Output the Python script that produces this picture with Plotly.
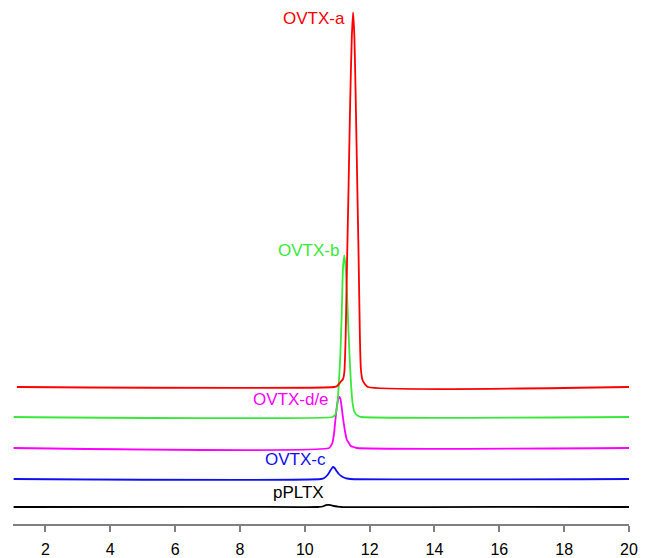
import plotly.graph_objects as go

# ---- data (retention time in min, detector signal in arbitrary units) ----
names = ["pPLTX", "OVTX-c", "OVTX-d/e", "OVTX-b", "OVTX-a"]
colors = ["#000000", "#1010ee", "#ff00ff", "#3ae83a", "#ff0000"]
offsets = [17, 45, 76, 107, 137]

t_pPLTX = [1.02, 8.0, 10.4, 10.55, 10.65, 10.72, 10.8, 10.9, 11.0, 11.15, 16.0, 20.0]
s_pPLTX = [0, 0.2, 0, 0.5, 1.8, 2.2, 1.8, 1.0, 0.5, 0, 0.2, 0]

t_c = [1.02, 10.5, 10.6, 10.7, 10.78, 10.84, 10.87, 10.92, 10.98, 11.05, 11.12, 11.2, 11.3, 11.4, 20.0]
s_c = [0, 0, 1, 4, 8, 11, 12, 11, 8, 5, 3, 1.5, 0.5, 0, 0]

t_de = [1.02, 10.75, 10.80, 10.85, 10.90, 10.95, 11.00, 11.04, 11.07, 11.10, 11.14,
        11.20, 11.25, 11.30, 11.36, 11.42, 11.5, 11.6, 20.0]
s_de = [0, 0, 2, 5, 14, 30, 44, 50, 51, 49, 40, 25, 15, 8, 5, 2, 1, 0, 0]

t_b = [1.02, 10.85, 10.9, 10.95, 11.0, 11.05, 11.1, 11.14, 11.18, 11.22, 11.26,
       11.30, 11.34, 11.38, 11.42, 11.47, 11.52, 11.57, 11.65, 11.75, 20.0]
s_b = [0, 0, 1, 3, 12, 33, 65, 104, 150, 161.7, 150, 125, 92, 62, 36, 15, 6, 3, 1, 0, 0]

t_a = [1.12, 10.9, 11.0, 11.1, 11.18, 11.22, 11.26, 11.30, 11.35, 11.40, 11.45, 11.49,
       11.53, 11.57, 11.62, 11.66, 11.70, 11.73, 11.78, 11.85, 11.95, 20.0]
s_a = [0, 0, 1, 5, 8, 15, 50, 120, 200, 285, 350, 374.7,
       350, 290, 200, 130, 50, 18, 7, 3, 0, 0]

times = [t_pPLTX, t_c, t_de, t_b, t_a]
signals = [s_pPLTX, s_c, s_de, s_b, s_a]

# label anchor (right edge) positions in data coordinates
label_x = [10.66, 10.71, 10.82, 11.12, 11.30]
label_y = [31.3, 65, 125, 274, 506]

tick_vals = [2, 4, 6, 8, 10, 12, 14, 16, 18, 20]

fig = go.Figure()
for name, col, off, t, s in zip(names, colors, offsets, times, signals):
    fig.add_trace(go.Scatter(
        x=t, y=[off + v for v in s], mode="lines", name=name,
        line=dict(color=col, width=1.8, shape="spline", smoothing=0.6),
        showlegend=False, hoverinfo="skip"))

for name, col, lx, ly in zip(names, colors, label_x, label_y):
    fig.add_annotation(x=lx, y=ly, text=name, showarrow=False,
                       xanchor="right", yanchor="middle",
                       font=dict(color=col, size=17, family="Liberation Sans, Arial"))

# page body has an 8px margin, so the figure is sized to end at the window edges
fig.update_layout(
    width=638, height=550,
    margin=dict(l=5, r=17, t=0, b=34),
    paper_bgcolor="white", plot_bgcolor="white",
    font=dict(family="Liberation Sans, Arial", size=16, color="black"),
    xaxis=dict(range=[1, 20], tickvals=tick_vals, ticks="outside", ticklen=6,
               tickcolor="#808080", tickwidth=1.5, showline=True, linecolor="#808080",
               linewidth=2, showgrid=False, zeroline=False, ticklabelstandoff=4,
               tickfont=dict(size=16, color="black")),
    yaxis=dict(range=[0, 516], visible=False, showgrid=False, zeroline=False),
)

fig.write_html("out.html")
